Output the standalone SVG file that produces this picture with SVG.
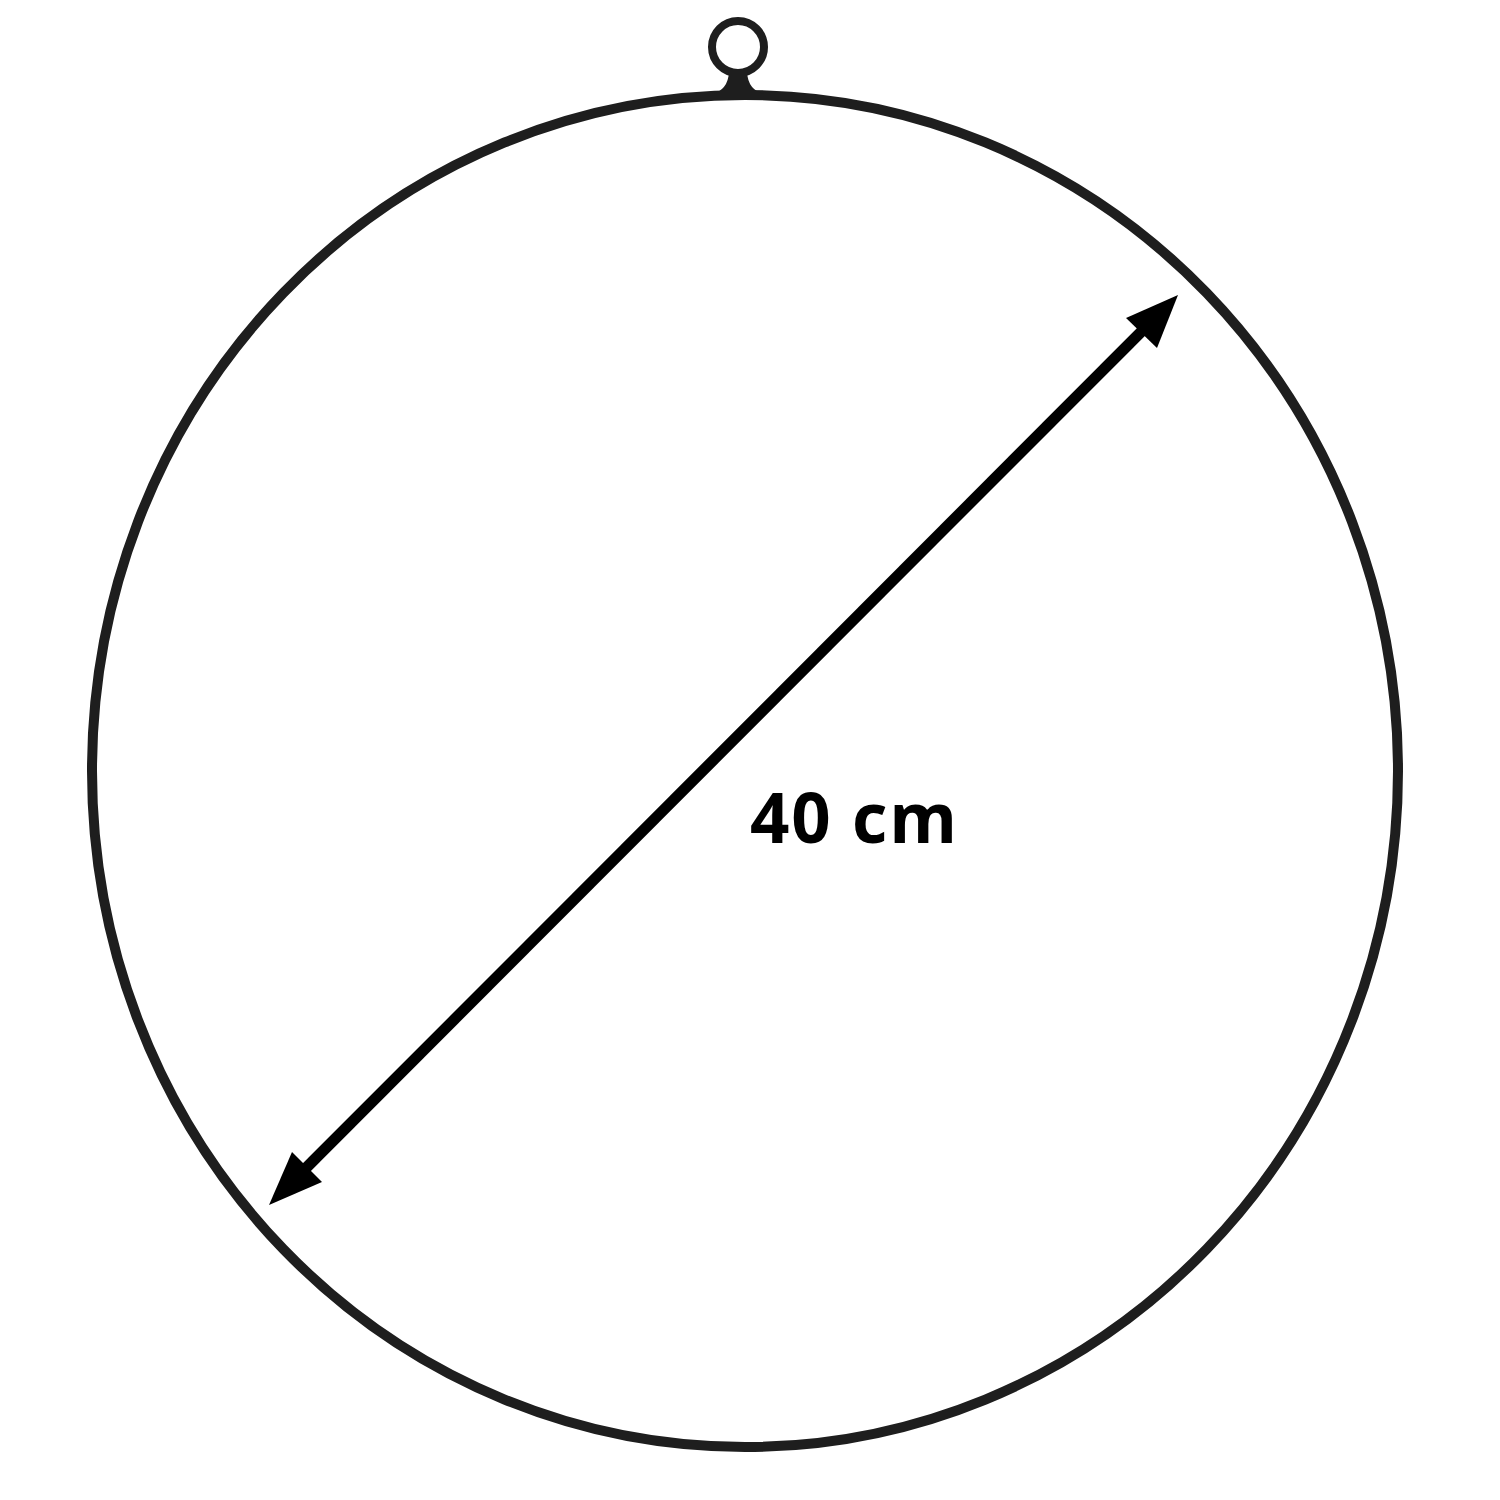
<svg xmlns="http://www.w3.org/2000/svg" width="1500" height="1500" viewBox="0 0 1500 1500">
<defs>
<style>
.ring{fill:none;stroke:#1e1e1e;stroke-width:10}
.dim{stroke:#000;stroke-width:11;fill:none}
.lbl{font-family:"Open Sans","DejaVu Sans",sans-serif;font-weight:bold;font-size:69px;fill:#000}
</style>
</defs>
<rect width="1500" height="1500" fill="#fff"/>
<g id="hoop">
<ellipse class="ring" cx="745" cy="771" rx="653" ry="676"/>
<circle cx="738" cy="47" r="26" fill="none" stroke="#1e1e1e" stroke-width="8"/>
<path d="M712,94 Q728,90 729,72 L747,72 Q748,90 764,94 Z" fill="#1e1e1e"/>
</g>
<g id="connectors">
<line class="dim" x1="1150" y1="323" x2="297" y2="1177"/>
<polygon points="1178,295 1126,318 1157,348" fill="#000"/>
<polygon points="269,1205 292,1152 322,1182" fill="#000"/>
</g>
<g id="label">
<text class="lbl" x="750" y="843" textLength="207" lengthAdjust="spacing">40 cm</text>
</g>
</svg>
